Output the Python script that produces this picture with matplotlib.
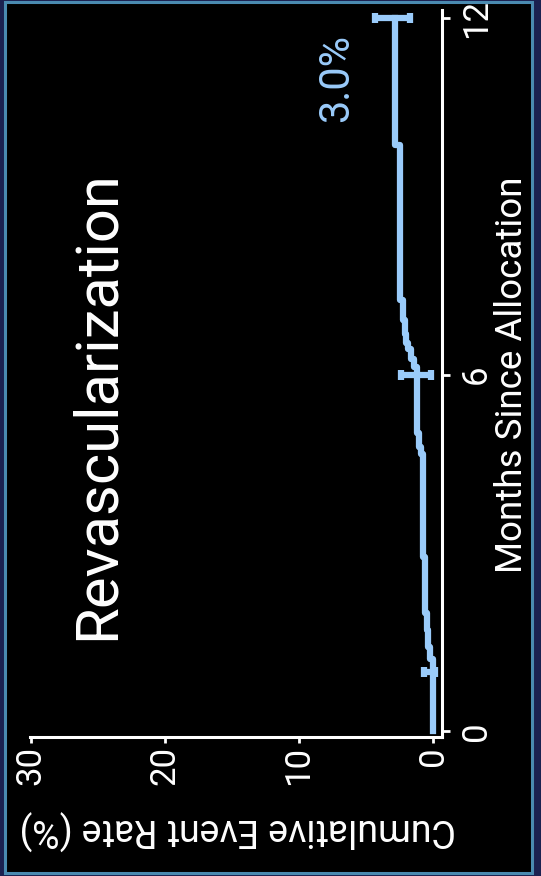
import matplotlib
matplotlib.use('Agg')
import matplotlib.pyplot as plt
from matplotlib.patches import Rectangle

# Kaplan-Meier style curve, drawn rotated: rate runs right-to-left, months bottom-to-top
months = [0, 1.22, 1.42, 1.70, 1.98, 2.93, 4.67, 4.79, 5.01, 6.13, 6.27, 6.44, 6.53, 6.69, 6.92, 7.26, 9.87, 12.0]
rate = [0, 0.22, 0.35, 0.47, 0.62, 0.78, 0.92, 1.03, 1.18, 1.40, 1.62, 1.85, 2.00, 2.12, 2.25, 2.45, 2.83, 2.83]

# confidence bars at 1, 6 and 12 months
eb_months = [1, 6, 12]
eb_rate = [0.10, 1.18, 2.83]
eb_lo = [0.23, 1.00, 1.15]
eb_hi = [0.56, 1.24, 1.53]

rate_ticks = [0, 10, 20, 30]
month_ticks = [0, 6, 12]

blue = '#9acbfa'
font = ['Liberation Sans Narrow', 'Roboto', 'DejaVu Sans']
plt.rcParams['font.family'] = font

fig = plt.figure(figsize=(5.41, 8.76), dpi=100)
fig.patch.set_facecolor('#1b2150')
fig.add_artist(Rectangle((5.3 / 541, 2.7 / 876), 526.7 / 541, 871.8 / 876,
                         transform=fig.transFigure, facecolor='black',
                         edgecolor='#4a8ab0', linewidth=2.2, zorder=0))

ax = fig.add_axes([30 / 541, 139 / 876, 412 / 541, 727 / 876])
ax.set_facecolor('none')

ax.plot(rate, months, drawstyle='steps-pre', color=blue, lw=4.5, zorder=3)
ax.errorbar(eb_rate, eb_months, xerr=[eb_lo, eb_hi], fmt='none', ecolor=blue,
            elinewidth=4.5, capsize=3.5, capthick=4.5, zorder=3)

ax.set_xlim(30.05, -0.67)
ax.set_ylim(-0.1, 12.14)
ax.set_xticks(rate_ticks)
ax.set_yticks(month_ticks)
ax.yaxis.tick_right()

for s in ['top', 'left']:
    ax.spines[s].set_visible(False)
for s in ['bottom', 'right']:
    ax.spines[s].set_color('white')
    ax.spines[s].set_linewidth(2.2)

ax.tick_params(axis='x', direction='out', length=4.5, width=2, colors='white',
               labelsize=25, labelrotation=90, pad=2)
ax.tick_params(axis='y', direction='out', length=6, width=2, colors='white',
               labelsize=25, labelrotation=90, pad=7)
for lab in ax.get_yticklabels():
    lab.set_va('center')

ax.text(7.2, 11.0, '3.0%', color=blue, fontsize=30, rotation=90,
        ha='center', va='center')

fig.text(97 / 541, 1 - 405 / 876, 'Revascularization', color='white',
         fontsize=43, rotation=90, ha='center', va='center')
fig.text(512 / 541, 1 - 375 / 876, 'Months Since Allocation', color='white',
         fontsize=26.5, rotation=90, ha='center', va='center')
fig.text(238 / 541, 1 - 830 / 876, 'Cumulative Event Rate (%)', color='white',
         fontsize=27, rotation=180, ha='center', va='center')

fig.savefig('out.png', dpi=100, facecolor=fig.get_facecolor())
